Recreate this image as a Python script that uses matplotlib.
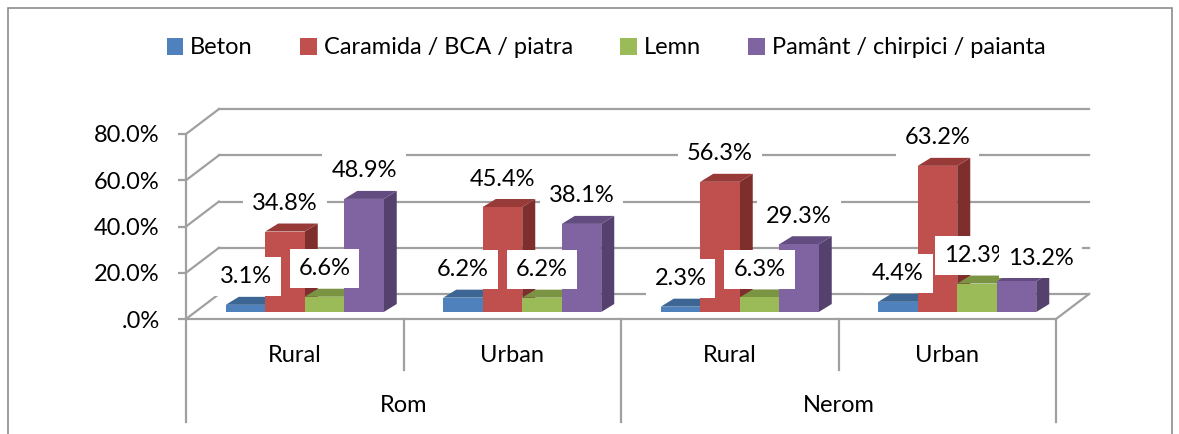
import matplotlib
matplotlib.use("Agg")
import matplotlib.pyplot as plt
from matplotlib.patches import Polygon, Rectangle

# --- data -------------------------------------------------------------------
groups = ["Rom", "Nerom"]
areas = ["Rural", "Urban", "Rural", "Urban"]
series = ["Beton", "Caramida / BCA / piatra", "Lemn", "Pamânt / chirpici / paianta"]
beton = [3.1, 6.2, 2.3, 4.4]
caramida = [34.8, 45.4, 56.3, 63.2]
lemn = [6.6, 6.2, 6.3, 12.3]
pamant = [48.9, 38.1, 29.3, 13.2]
yticks = [0, 20, 40, 60, 80]
ytick_labels = [".0%", "20.0%", "40.0%", "60.0%", "80.0%"]

values = [beton, caramida, lemn, pamant]

FRONT = ["#4F81BD", "#C0504D", "#9BBB59", "#8064A2"]
TOP = ["#3D6695", "#973A38", "#7A9444", "#634D80"]
SIDE = ["#355A86", "#7E2F2D", "#6B8339", "#55416E"]
GRID = "#A0A0A0"

plt.rcParams["font.family"] = ["Lato", "DejaVu Sans"]
FS = 17

W, H = 1179, 434
fig = plt.figure(figsize=(W / 100, H / 100), dpi=100)
ax = fig.add_axes([186 / W, 115 / H, 870 / W, 185 / H])
ax.set_xlim(0, 4)
ax.set_ylim(0, 80)

PX_X = 870 / 4      # pixels per category unit
PX_Y = 185 / 80     # pixels per percent


def px(dx, dy):
    return dx / PX_X, dy / PX_Y


WX, WY = px(33, 25)   # depth of the floor / side wall
BX, BY = px(10, 7)    # bar placement inside the depth
DX, DY = px(13, 8)    # bar depth
BW = 39.5 / PX_X      # bar width

# outer chart border
fig.patches.append(Rectangle((8 / W, -0.05), (1172 - 8) / W, 1.05 - 8 / H,
                             transform=fig.transFigure, fill=False,
                             ec="#8C8C8C", lw=1.2))

# --- walls, grid, floor -----------------------------------------------------
for t in yticks:
    ax.plot([0, WX], [t, t + WY], color=GRID, lw=1.6, clip_on=False, zorder=1)
    ax.plot([WX, 4 + WX], [t + WY, t + WY], color=GRID, lw=1.6,
            clip_on=False, zorder=1)
ax.plot([4, 4 + WX], [0, WY], color=GRID, lw=1.6, clip_on=False, zorder=1)

for s in ["top", "right"]:
    ax.spines[s].set_visible(False)
for s in ["left", "bottom"]:
    ax.spines[s].set_color(GRID)
    ax.spines[s].set_linewidth(1.6)
ax.set_xticks([])
ax.set_yticks(yticks)
ax.set_yticklabels(ytick_labels)
ax.tick_params(axis="y", length=6, width=1.6, color=GRID, pad=13, labelsize=FS)
ax.patch.set_alpha(0)

# category separators and labels
for k in range(5):
    depth = 103 if k % 2 == 0 else 51
    ax.plot([k, k], [0, -depth / PX_Y], color=GRID, lw=1.6, clip_on=False)
for j, a in enumerate(areas):
    ax.text(j + 0.5, -36 / PX_Y, a, ha="center", va="center", fontsize=FS)
for g, name in enumerate(groups):
    ax.text(2 * g + 1, -87 / PX_Y, name, ha="center", va="center", fontsize=FS)

# --- bars -------------------------------------------------------------------
for j in range(len(areas)):
    for i in range(len(series)):
        h = values[i][j]
        x0 = j + 0.5 + (i - 2) * BW + BX
        y0 = BY
        ax.add_patch(Polygon([(x0 + BW, y0), (x0 + BW + DX, y0 + DY),
                              (x0 + BW + DX, y0 + h + DY), (x0 + BW, y0 + h)],
                             fc=SIDE[i], ec="none", clip_on=False, zorder=3))
        ax.add_patch(Polygon([(x0, y0 + h), (x0 + BW, y0 + h),
                              (x0 + BW + DX, y0 + h + DY), (x0 + DX, y0 + h + DY)],
                             fc=TOP[i], ec="none", clip_on=False, zorder=3))
        ax.add_patch(Rectangle((x0, y0), BW, h, fc=FRONT[i], ec="none",
                               clip_on=False, zorder=3))

# --- data labels ------------------------------------------------------------
nudge = {(3, 3): (24, -5)}   # label moved by hand in the original
for i in range(len(series)):
    for j in range(len(areas)):
        h = values[i][j]
        nx, ny = nudge.get((i, j), (0, 0))
        x = j + 0.5 + (i - 1.5) * BW + BX + nx / PX_X
        y = BY + h + (28 + ny) / PX_Y
        ax.text(x, y, f"{h:.1f}%", ha="center", va="center", fontsize=FS,
                zorder=5, clip_on=False,
                bbox=dict(boxstyle="square,pad=0.38", fc="white", ec="none"))

# --- legend -----------------------------------------------------------------
handles = [Rectangle((0, 0), 1, 1, fc=c, ec="none") for c in FRONT]
fig.legend(handles, series, loc="center", bbox_to_anchor=(606 / W, 1 - 48 / H),
           ncol=4, frameon=False, fontsize=FS, handlelength=0.7,
           handleheight=0.7, handletextpad=0.3, columnspacing=2.0)

fig.savefig("out.png", dpi=100)
